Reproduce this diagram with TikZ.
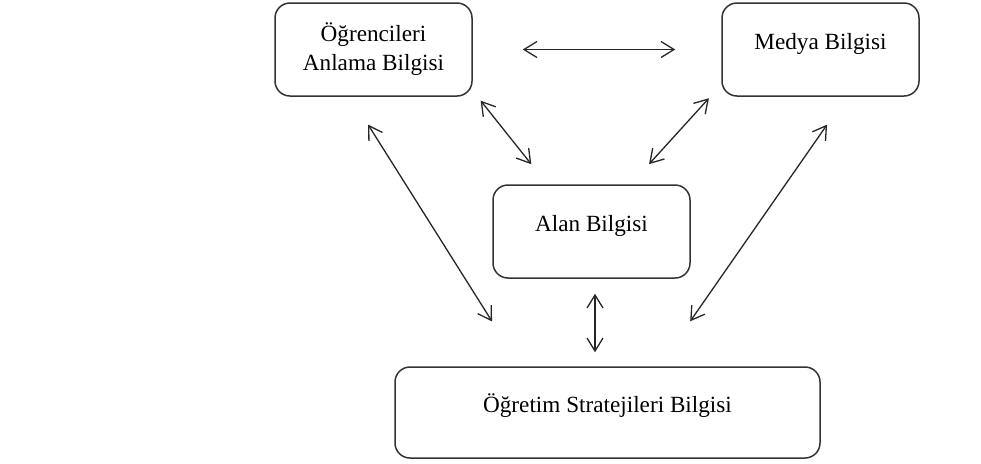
\documentclass[tikz,border=0pt]{standalone}
\usepackage{fontspec}
\setmainfont{Liberation Serif}
\usepackage{tikz}
\usetikzlibrary{arrows.meta, calc}

\begin{document}
\begin{tikzpicture}[x=0.5pt, y=-0.5pt,
    every node/.style={font={\fontsize{11.6}{14.5}\selectfont}},
    kbox/.style={draw=black!80, line width=0.75pt, rounded corners=7.5pt,
        minimum width=98.5pt, minimum height=46.5pt, align=center},
    onebox/.style={kbox, text height=8pt, text depth=8pt},
    link/.style={{Straight Barb[length=6.5pt,width=8pt]}-{Straight Barb[length=6.5pt,width=8pt]},
        line width=0.65pt, black!85}]
\useasboundingbox (0,0) rectangle (981,463);
% the four boxes
\node[kbox] (anlama) at (373.5,49.5) {Öğrencileri\\Anlama Bilgisi};
\node[onebox] (medya) at (820.5,49.5) {Medya Bilgisi};
\node[onebox] (alan) at (591.5,231.5) {Alan Bilgisi};
\node[onebox, minimum width=212.5pt, minimum height=45.5pt] (strateji) at (607.5,412.5) {Öğretim Stratejileri Bilgisi};
% two-way links
\draw[link, shorten <=25pt, shorten >=23pt] (anlama.east) -- (medya.west);
\draw[link, shorten <=2.5pt, shorten >=12.8pt] ([xshift=2.4pt]anlama.south east) -- ([xshift=27.5pt]alan.north west);
\draw[link, shorten <=1pt, shorten >=13.6pt] ([xshift=-5.5pt]medya.south west) -- ([xshift=-30pt]alan.north east);
\draw[link, shorten <=16.5pt, shorten >=26.5pt] ([xshift=-11.5pt]anlama.south) -- ([xshift=-43.6pt]strateji.north);
\draw[link, shorten <=17pt, shorten >=27.4pt] ([xshift=13pt]medya.south) -- ([xshift=25.7pt]strateji.north);
\draw[link, shorten <=7.5pt, shorten >=7pt] ([xshift=1.75pt]alan.south) -- ([xshift=1.75pt]alan.south |- strateji.north);
\end{tikzpicture}
\end{document}
